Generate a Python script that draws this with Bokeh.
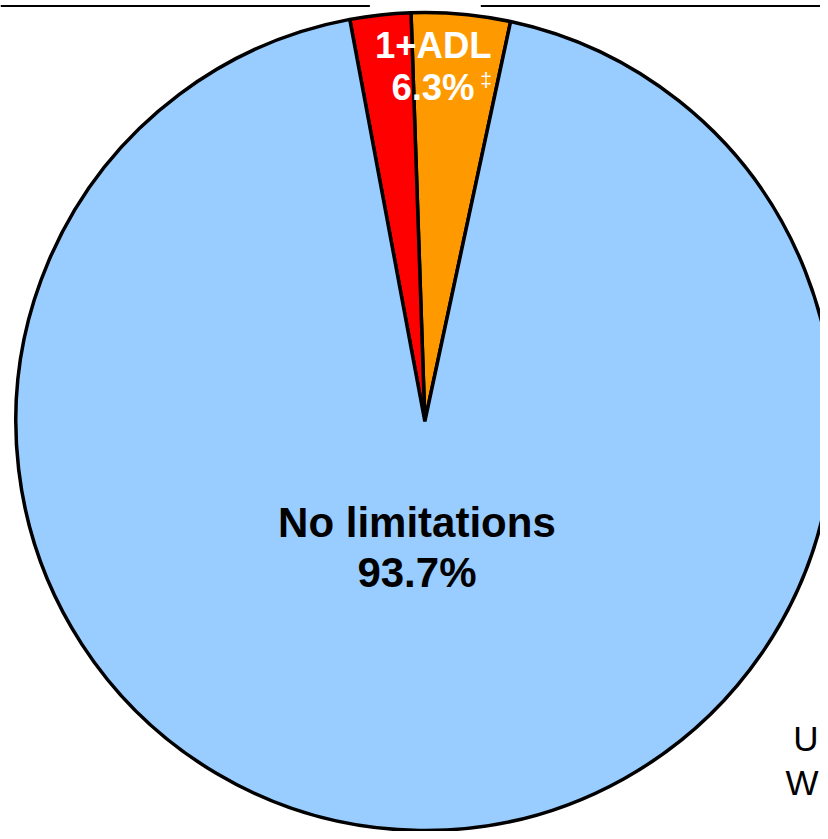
import math
from bokeh.plotting import figure
from bokeh.models import Range1d, ColumnDataSource
from bokeh.core.properties import value
from bokeh.embed import file_html
from bokeh.resources import INLINE

# ---- data ----
segments = ["1+ADL (orange)", "1+ADL (red)", "No limitations"]
shares = [3.9, 2.4, 93.7]
colors = ["#FF9900", "#FF0000", "#99CCFF"]
big_label = "No limitations"
small_label = "1+ADL"
note_lines = ["U", "W"]

# ---- layout (data units ~ reference pixels, origin at pie centre) ----
W, H = 820, 831
REF_W, REF_H = 828, 839
cx_ref, cy_ref = 428.5, 425.0
R = 413
start_deg = 77.9

p = figure(width=W, height=H, output_backend="svg", toolbar_location=None,
           x_range=Range1d(-cx_ref, REF_W - cx_ref),
           y_range=Range1d(cy_ref - REF_H, cy_ref),
           min_border=0, border_fill_color="white", background_fill_color="white")
p.axis.visible = False
p.grid.visible = False
p.outline_line_color = None

total = sum(shares)
starts, ends = [], []
acc = start_deg
for s in shares:
    starts.append(math.radians(acc))
    acc += s / total * 360.0
    ends.append(math.radians(acc))

src = ColumnDataSource(dict(seg=segments, start=starts, end=ends, color=colors))
p.wedge(x=0, y=0, radius=R, start_angle="start", end_angle="end", source=src,
        fill_color="color", line_color="black", line_width=3.5)

font = value("Liberation Sans")

# big slice label
p.text(x=[-8, -8], y=[-102, -153],
       text=[big_label, f"{shares[2]:.1f}%"],
       text_font=font, text_font_style="bold", text_font_size="42px",
       text_color="black", text_align="center", text_baseline="alphabetic")

# small slices label
small_total = shares[0] + shares[1]
p.text(x=[8.5, 8.2], y=[380, 337],
       text=[small_label, f"{small_total:.1f}%"],
       text_font=font, text_font_style="bold", text_font_size="36.5px",
       text_color="white", text_align="center", text_baseline="alphabetic")
p.text(x=[56], y=[345], text=["\u2021"],
       text_font=font, text_font_size="21px",
       text_color="white", text_align="left", text_baseline="alphabetic")

# note at right edge
p.text(x=[REF_W - cx_ref - 2, REF_W - cx_ref - 2], y=[-320, -365], text=note_lines,
       text_font=font, text_font_size="35px",
       text_color="black", text_align="right", text_baseline="alphabetic")

# top rules
ty = cy_ref - 5.5
p.segment(x0=[-cx_ref, 485 - cx_ref], y0=[ty, ty],
          x1=[373 - cx_ref, REF_W - cx_ref], y1=[ty, ty],
          line_color="black", line_width=2)

open("out.html", "w").write(file_html(p, INLINE))
